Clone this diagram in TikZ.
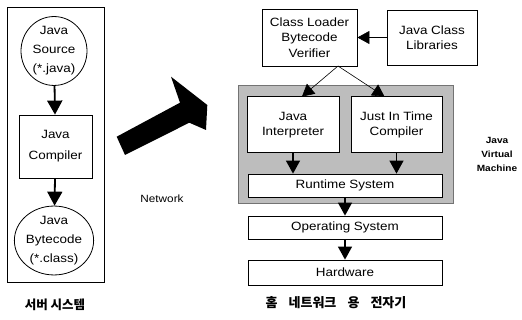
\documentclass[tikz,border=0pt]{standalone}
\usepackage{fontspec}
\setmainfont[FakeStretch=1.12]{Liberation Sans}
\newfontfamily\krfont{Noto Sans CJK KR}
\usetikzlibrary{arrows.meta,shapes.geometric}
\begin{document}
\begin{tikzpicture}[x=1pt,y=-1pt,
  box/.style={draw, line width=0.8pt, fill=white, align=center, inner sep=0pt,
    font=\fontsize{12}{15.5}\selectfont},
  oval/.style={ellipse, draw, line width=0.8pt, fill=white, align=center, inner sep=0pt,
    font=\fontsize{12}{19}\selectfont},
  bigarr/.style={-{Triangle[length=14pt,width=15pt]}, line width=1.8pt},
  midarr/.style={-{Triangle[length=13pt,width=14pt]}, line width=1.4pt},
  thinarr/.style={-{Triangle[length=12pt,width=13pt]}, line width=0.6pt},
  krlabel/.style={font=\krfont\bfseries\fontsize{13}{15}\selectfont},
  jvmshade/.style={fill=black!26, draw=black!55, line width=0.8pt}
]
\useasboundingbox (0,0) rectangle (522,320);

% ---------- left: server ----------
\draw[line width=0.7pt] (7,7) rectangle (104,282);
\node[oval, minimum width=66pt, minimum height=54pt] (src) at (54,51)
  {Java\\Source\\(*.java)};
\node[box, minimum width=73pt, minimum height=63pt, font=\fontsize{12}{21}\selectfont]
  (comp) at (55.5,146.5) {Java\\Compiler};
\node[oval, minimum width=64pt, minimum height=59pt] (bc) at (54,240.5)
  {Java\\Bytecode\\(*.class)};
\draw[bigarr] (src) -- (comp);
\draw[bigarr] (comp) -- (bc);
\node[krlabel, font=\krfont\bfseries\fontsize{12.5}{15}\selectfont] (lk) at (55,305) {서버 시스템};

% ---------- network arrow ----------
\fill[black] (116.7,136.7) -- (180,102.7) -- (171,76.7) -- (207.3,105)
  -- (206,130) -- (189.3,122.7) -- (125,155) -- cycle;
\node[font=\fontsize{10.5}{13}\selectfont] (net) at (162,199) {Network};

% ---------- right: device ----------
\node[box, minimum width=95pt, minimum height=57pt] (cl) at (309.5,37.5)
  {Class Loader\\Bytecode\\Verifier};
\node[box, minimum width=90pt, minimum height=55pt] (lib) at (432,37.5)
  {Java Class\\Libraries};
\draw[thinarr] (lib) -- (cl);

\draw[jvmshade] (238,85) rectangle (453,203);
\node[box, line width=1pt, minimum width=92pt, minimum height=56pt] (interp) at (293,125)
  {Java\\Interpreter};
\node[box, line width=1pt, minimum width=91pt, minimum height=56pt] (jit) at (396.5,125)
  {Just In Time\\Compiler};
\node[box, minimum width=194pt, minimum height=23pt] (rt) at (345,185.5)
  {Runtime System};
\node[box, minimum width=194pt, minimum height=23pt] (os) at (345,227.5)
  {Operating System};
\node[box, minimum width=194pt, minimum height=25pt] (hw) at (345,272.5)
  {Hardware};

\coordinate (apex) at (338,66);
\draw[thinarr] (apex) -- ([xshift=9pt]interp.north);
\draw[thinarr] (apex) -- ([xshift=-12pt]jit.north);

\draw[midarr] (interp.south) -- (interp.south |- rt.north);
\draw[midarr] (jit.south) -- (jit.south |- rt.north);
\draw[midarr] (rt) -- (os);
\draw[midarr] (os) -- (hw);

\node[align=center, font=\bfseries\fontsize{9}{14}\selectfont] (jvm) at (497,154)
  {Java\\Virtual\\Machine};
\node[krlabel] (rk) at (336,303) {홈\hspace{0.85em}네트워크\hspace{0.85em}용\hspace{0.85em}전자기};
\end{tikzpicture}
\end{document}
